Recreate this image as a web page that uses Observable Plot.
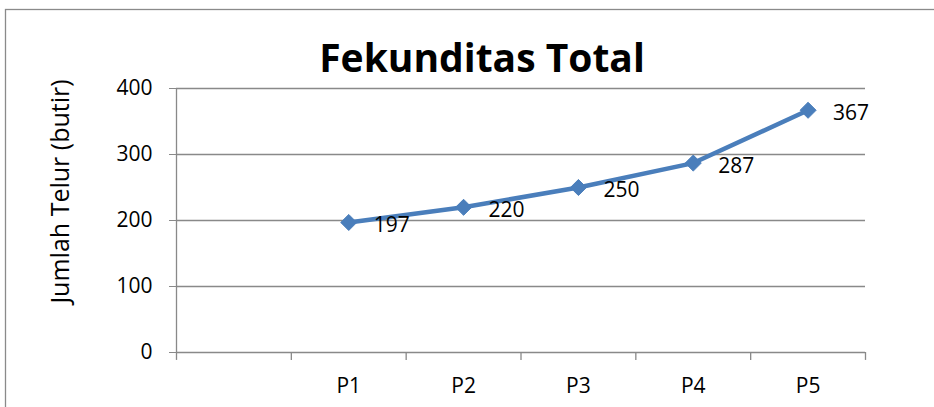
<!DOCTYPE html>
<html>
<head>
<meta charset="utf-8">
<script src="https://cdn.jsdelivr.net/npm/d3@7"></script>
<script src="https://cdn.jsdelivr.net/npm/@observablehq/plot@0.6"></script>
<style>
  html, body { margin: 0; padding: 0; background: #fff; }
  #chart { width: 934px; height: 407px; overflow: hidden; }
</style>
</head>
<body>
<div id="chart"></div>
<script>
// Categories (the first slot is blank, as in the source chart)
const categories = ["", "P1", "P2", "P3", "P4", "P5"];
const values = [null, 197, 220, 250, 287, 367];
const yTicks = [0, 100, 200, 300, 400];
const gridValues = [100, 200, 300, 400];
const titleText = "Fekunditas Total";
const yTitle = "Jumlah Telur (butir)";

const data = categories.map((c, i) => ({cat: c, idx: i, value: values[i]})).filter(d => d.value != null);

const lineColor = "#4a7ebb";
const gridColor = "#898989";

const diamond = {
  draw(ctx, size) {
    const r = Math.sqrt(size / 2);
    ctx.moveTo(0, -r);
    ctx.lineTo(r, 0);
    ctx.lineTo(0, r);
    ctx.lineTo(-r, 0);
    ctx.closePath();
  }
};

const chart = Plot.plot({
  width: 934,
  height: 407,
  marginLeft: 176,
  marginRight: 69,
  marginTop: 88,
  marginBottom: 55,
  style: {fontFamily: "'Open Sans', sans-serif", fontSize: "21px", color: "#000", background: "#fff", overflow: "visible"},
  x: {
    domain: [0, categories.length],
    ticks: categories.map((c, i) => i + 0.5).slice(1),
    tickFormat: v => categories[Math.floor(v)],
    tickSize: 0,
    tickPadding: 26,
    label: null
  },
  y: {
    domain: [0, 400],
    ticks: yTicks,
    tickSize: 7,
    tickPadding: 17,
    label: null
  },
  marks: [
    Plot.ruleY(gridValues, {stroke: gridColor, strokeWidth: 1.3}),
    Plot.ruleY([0], {stroke: gridColor, strokeWidth: 1.3}),
    Plot.ruleX([0], {stroke: gridColor, strokeWidth: 1.3}),
    Plot.ruleX(d3.range(categories.length + 1), {y1: 0, y2: -12, stroke: gridColor, strokeWidth: 1.3, clip: false}),
    Plot.line(data, {x: d => d.idx + 0.5, y: "value", stroke: lineColor, strokeWidth: 4.5, strokeLinejoin: "round"}),
    Plot.dot(data, {x: d => d.idx + 0.5, y: "value", symbol: diamond, r: 6.4, fill: lineColor, stroke: lineColor, strokeWidth: 1}),
    Plot.text(data, {x: d => d.idx + 0.5, y: "value", text: d => String(d.value), textAnchor: "start", lineAnchor: "middle", dx: 25, dy: 3, fill: "#000", fontSize: 21}),
    Plot.text([titleText], {frameAnchor: "top", text: d => d, textAnchor: "middle", lineAnchor: "middle", dx: -39, dy: -29, fontSize: 39, fontWeight: "bold", fill: "#000"}),
    Plot.text([yTitle], {frameAnchor: "left", text: d => d, textAnchor: "middle", rotate: -90, lineAnchor: "middle", dx: -116, dy: -29, fontSize: 25, fill: "#000"})
  ]
});

// y axis tick marks in gray
d3.select(chart).selectAll("[aria-label='y-axis tick'] path, [aria-label='y-axis'] .tick line").attr("stroke", gridColor);

// outer chart border
d3.select(chart).insert("rect", ":first-child")
  .attr("x", 5.5).attr("y", 9.5).attr("width", 960).attr("height", 420)
  .attr("fill", "none").attr("stroke", "#8a8a8a").attr("stroke-width", 1.3);

document.getElementById("chart").appendChild(chart);
</script>
</body>
</html>
